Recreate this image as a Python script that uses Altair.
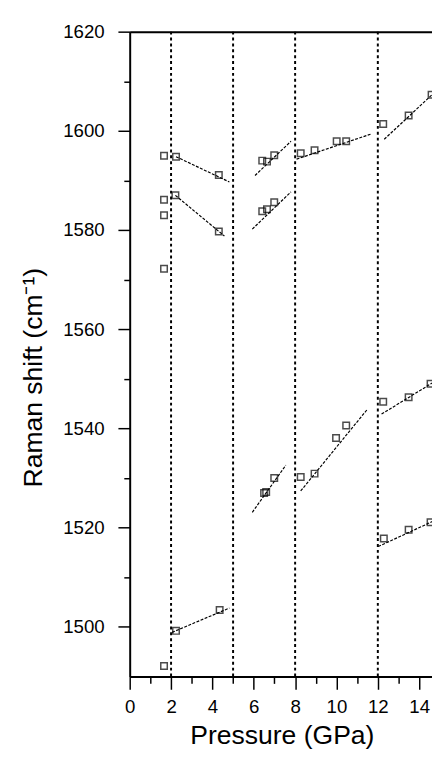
import altair as alt
import pandas as pd

# ---- measured data (open squares) ----
pressure = [1.66, 1.66, 1.66, 1.66, 1.66,
            2.24, 4.31, 2.21, 4.31, 2.24, 4.35,
            6.41, 6.64, 6.99, 6.41, 6.64, 6.99, 6.50, 6.60, 6.99,
            8.27, 8.94, 10.01, 10.47, 8.27, 8.94, 9.98, 10.47,
            12.26, 13.49, 14.60, 12.26, 13.49, 14.55, 12.29, 13.49, 14.55]
raman = [1595.0, 1586.1, 1583.0, 1572.2, 1492.1,
         1594.8, 1591.1, 1587.0, 1579.7, 1499.2, 1503.4,
         1594.0, 1593.8, 1595.1, 1583.8, 1584.2, 1585.6, 1527.0, 1527.2, 1530.0,
         1595.5, 1596.1, 1597.9, 1597.9, 1530.2, 1530.9, 1538.1, 1540.6,
         1601.4, 1603.1, 1607.3, 1545.4, 1546.3, 1549.0, 1517.8, 1519.6, 1521.1]

# ---- linear fits within each pressure range (segment end points) ----
fit_x1 = [2.24, 2.21, 2.05, 6.06, 5.93, 5.93, 8.07, 8.27, 12.31, 12.18, 12.02]
fit_y1 = [1594.8, 1587.0, 1498.9, 1591.0, 1580.2, 1523.1, 1594.3, 1527.4, 1598.3, 1542.9, 1516.2]
fit_x2 = [4.82, 4.58, 4.82, 7.80, 7.80, 7.55, 11.70, 11.50, 15.50, 15.50, 15.50]
fit_y2 = [1589.7, 1578.8, 1503.8, 1597.9, 1587.7, 1532.6, 1599.4, 1543.9, 1610.7, 1551.4, 1522.9]

# ---- phase boundaries (dotted verticals) ----
boundaries = [2, 5, 8, 12]

# ---- axis ticks ----
x_major = [0, 2, 4, 6, 8, 10, 12, 14]
x_minor = [1, 3, 5, 7, 9, 11, 13]
y_major = [1500, 1520, 1540, 1560, 1580, 1600, 1620]
y_minor = [1510, 1530, 1550, 1570, 1590, 1610]

pts = pd.DataFrame({"p": pressure, "r": raman})
fits = pd.DataFrame({"x1": fit_x1, "y1": fit_y1, "x2": fit_x2, "y2": fit_y2})
bnd = pd.DataFrame({"b": boundaries})

FONT = "Liberation Sans"
xs = alt.Scale(domain=[0, 14.62], nice=False, zero=False)
ys = alt.Scale(domain=[1490, 1620], nice=False, zero=False)

common = dict(domainColor="black", domainWidth=2, tickColor="black", tickWidth=1.5,
              labelFont=FONT, labelColor="black", labelFontSize=19,
              labelFlush=False, labelOverlap=False, grid=False,
              titleFont=FONT, titleColor="black", titleFontSize=27, titleFontWeight="normal")

x_axis_major = alt.Axis(orient="bottom", values=x_major, tickSize=13, labelPadding=9,
                        format="d",
                        title="Pressure (GPa)", titleX=155, titleY=47,
                        titleAlign="center", titleBaseline="top", **common)
y_axis_major = alt.Axis(orient="left", values=y_major, tickSize=12, labelPadding=14,
                        format="d",
                        title="Raman shift (cm⁻¹)", titleX=-84, titleY=352,
                        titleAlign="center", titleBaseline="bottom", titleAngle=270, **common)

x_axis_minor = alt.Axis(orient="bottom", values=x_minor, tickSize=7, labels=False,
                        domain=False, title=None, tickColor="black", tickWidth=1.5, grid=False)
y_axis_minor = alt.Axis(orient="left", values=y_minor, tickSize=6, labels=False,
                        domain=False, title=None, tickColor="black", tickWidth=1.5, grid=False)

x_axis_top = alt.Axis(orient="top", labels=False, ticks=False, title=None,
                      domain=True, domainColor="black", domainWidth=2, grid=False)

points = alt.Chart(pts).mark_point(shape="square", filled=False, size=44,
                                   stroke="black", strokeWidth=1.5, clip=True).encode(
    x=alt.X("p:Q", scale=xs, axis=x_axis_major),
    y=alt.Y("r:Q", scale=ys, axis=y_axis_major),
)

fit_lines = alt.Chart(fits).mark_rule(color="black", strokeWidth=1.2,
                                      strokeDash=[3, 1.5], clip=True).encode(
    x=alt.X("x1:Q", scale=xs, axis=x_axis_minor),
    x2="x2:Q",
    y=alt.Y("y1:Q", scale=ys, axis=y_axis_minor),
    y2="y2:Q",
)

vlines = alt.Chart(bnd).mark_rule(color="black", strokeWidth=2,
                                  strokeDash=[3, 3]).encode(
    x=alt.X("b:Q", scale=xs, axis=x_axis_top),
)

chart = alt.layer(vlines, fit_lines, points).resolve_axis(
    x="independent", y="independent"
).properties(
    width=308, height=657,
    padding={"left": 124, "top": 17, "right": 0, "bottom": 80},
    autosize=alt.AutoSizeParams(type="none"),
).configure_view(stroke=None).configure(background="white")

chart.save("out.html", embed_options={"renderer": "svg", "actions": False})
